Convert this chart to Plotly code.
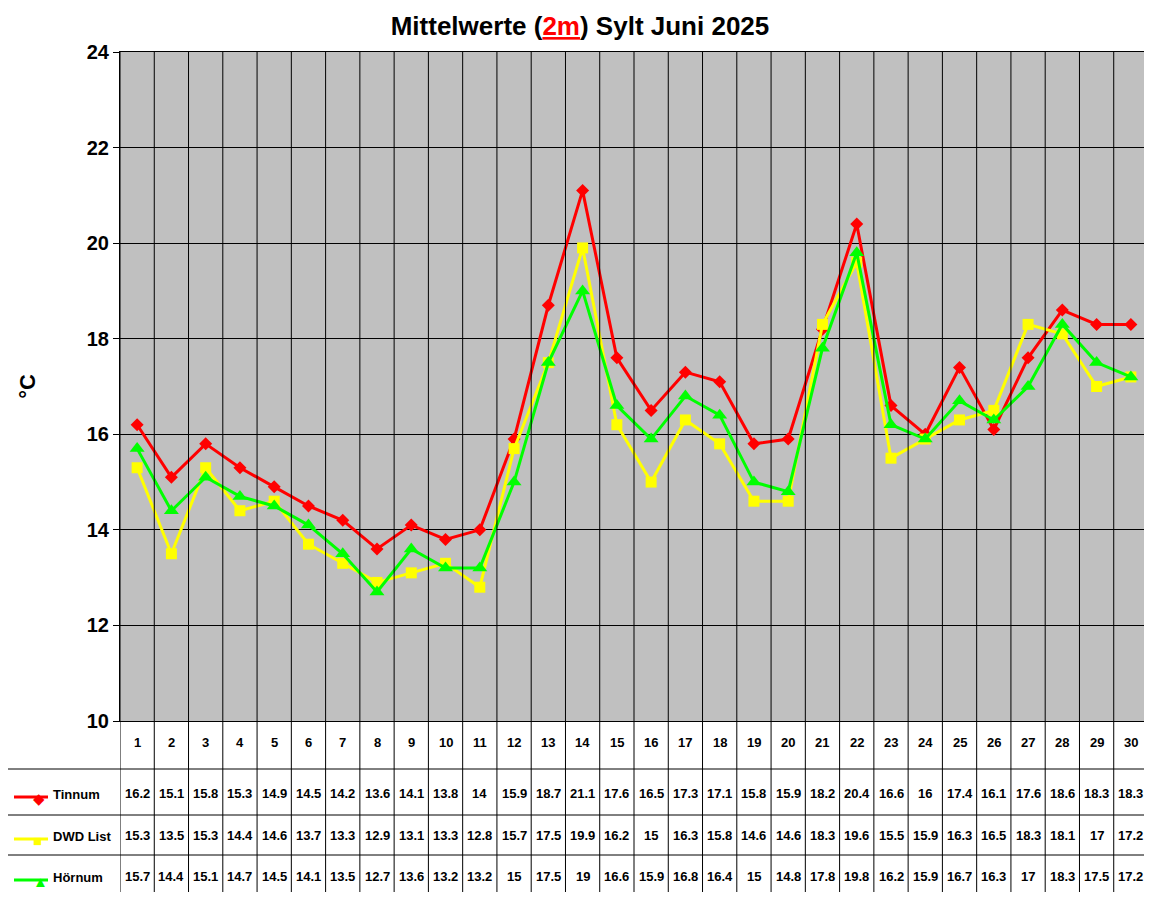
import plotly.graph_objects as go

days = list(range(1, 31))
tinnum = [16.2, 15.1, 15.8, 15.3, 14.9, 14.5, 14.2, 13.6, 14.1, 13.8, 14, 15.9, 18.7, 21.1, 17.6,
          16.5, 17.3, 17.1, 15.8, 15.9, 18.2, 20.4, 16.6, 16, 17.4, 16.1, 17.6, 18.6, 18.3, 18.3]
dwd_list = [15.3, 13.5, 15.3, 14.4, 14.6, 13.7, 13.3, 12.9, 13.1, 13.3, 12.8, 15.7, 17.5, 19.9, 16.2,
            15, 16.3, 15.8, 14.6, 14.6, 18.3, 19.6, 15.5, 15.9, 16.3, 16.5, 18.3, 18.1, 17, 17.2]
hoernum = [15.7, 14.4, 15.1, 14.7, 14.5, 14.1, 13.5, 12.7, 13.6, 13.2, 13.2, 15, 17.5, 19, 16.6,
           15.9, 16.8, 16.4, 15, 14.8, 17.8, 19.8, 16.2, 15.9, 16.7, 16.3, 17, 18.3, 17.5, 17.2]

series = [
    ('Tinnum', tinnum, '#FF0000', 'diamond', 10, '◆'),
    ('DWD List', dwd_list, '#FFFF00', 'square', 11, '■'),
    ('Hörnum', hoernum, '#00FF00', 'triangle-up', 13, '▲'),
]

H_PLOT = 669.0
W_PLOT = 1028.0
def py(p):  # pixel y below plot bottom (721) -> paper
    return (721 - p) / H_PLOT

FONT = 'Liberation Sans'
fig = go.Figure()
for name, vals, col, sym, size, glyph in series:
    fig.add_trace(go.Scatter(x=days, y=vals, name=name, mode='lines+markers',
                             line=dict(color=col, width=3),
                             marker=dict(symbol=sym, size=size, color=col)))

shapes = []
# vertical grid through plot and table
for k in range(0, 31):
    shapes.append(dict(type='line', xref='x', yref='paper', x0=k + 0.5, x1=k + 0.5,
                       y0=py(895), y1=1, line=dict(color='black', width=1)))
# table horizontal lines
for p in [769, 815, 855, 895]:
    shapes.append(dict(type='line', xref='paper', yref='paper', x0=-115 / W_PLOT, x1=1,
                       y0=py(p), y1=py(p), line=dict(color='black', width=1)))
shapes.append(dict(type='line', xref='paper', yref='paper', x0=-115 / W_PLOT, x1=-115 / W_PLOT,
                   y0=py(895), y1=py(769), line=dict(color='black', width=1)))

annotations = []
for d in days:
    annotations.append(dict(x=d, y=py(752), xref='x', yref='paper', text=f'<b>{d}</b>',
                            showarrow=False, font=dict(size=13, family=FONT, color='black')))
row_y = [803, 845, 886]
for (name, vals, col, sym, size, glyph), ry in zip(series, row_y):
    for d, v in zip(days, vals):
        annotations.append(dict(x=d, y=py(ry), xref='x', yref='paper', text=f'<b>{v:g}</b>',
                                showarrow=False, font=dict(size=13, family=FONT, color='black')))
    ly = py(ry - 6)
    shapes.append(dict(type='line', xref='paper', yref='paper', x0=-106 / W_PLOT, x1=-72 / W_PLOT,
                       y0=ly, y1=ly, line=dict(color=col, width=3)))
    annotations.append(dict(x=-89 / W_PLOT, y=py(ry - 5), xref='paper', yref='paper', text=glyph,
                            showarrow=False, yanchor='middle', font=dict(size=15, color=col)))
    annotations.append(dict(x=-69 / W_PLOT, y=py(ry + 1), xref='paper', yref='paper',
                            text=f'<b>{name}</b>', showarrow=False, xanchor='left',
                            font=dict(size=13, family=FONT, color='black')))

fig.update_layout(
    width=1144, height=884,
    margin=dict(l=112, r=4, t=44, b=171),
    paper_bgcolor='white', plot_bgcolor='#C0C0C0',
    showlegend=False,
    title=dict(text="<b>Mittelwerte (<span style='color:red'><u>2m</u></span>) Sylt Juni 2025</b>",
               x=0.5, xanchor='center', y=0.99, yanchor='top',
               font=dict(size=26, family=FONT, color='black')),
    font=dict(family=FONT, color='black'),
    shapes=shapes, annotations=annotations,
)
fig.update_xaxes(range=[0.5, 30.5], showticklabels=False, showgrid=False, zeroline=False,
                 showline=True, linecolor='black', mirror=True)
fig.update_yaxes(range=[10, 24], dtick=2, showgrid=True, gridcolor='black', gridwidth=1,
                 zeroline=False, showline=True, linecolor='black', mirror=True,
                 ticks='outside', ticklen=6, tickcolor='black',
                 tickfont=dict(size=20, family=FONT, color='black'),
                 tickprefix='<b>', ticksuffix='</b>',
                 title=dict(text='<b>°C</b>', font=dict(size=22, family=FONT), standoff=45))

fig.write_html("out.html")
